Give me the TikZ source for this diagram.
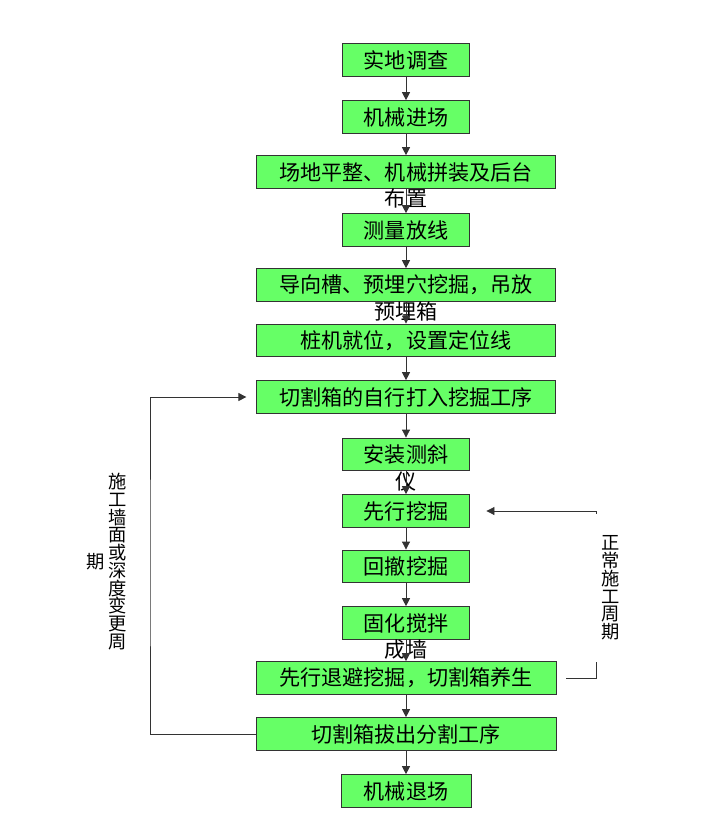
\documentclass[tikz,border=0pt]{standalone}
\usepackage{fontspec}
\newfontfamily\cjk{Noto Sans CJK SC}
\usetikzlibrary{arrows.meta,positioning}
\definecolor{boxgreen}{RGB}{102,255,102}

\begin{document}
\begin{tikzpicture}[%
  box/.style = {draw=black!80, line width=0.6pt, fill=boxgreen,
    minimum height=0.82cm, inner sep=0pt, font=\cjk\fontsize{15}{18}\selectfont},
  smallbox/.style = {box, minimum width=3.18cm},
  widebox/.style = {box, minimum width=7.48cm},
  tailtext/.style = {inner sep=0pt, font=\cjk\fontsize{15}{18}\selectfont},
  vtext/.style = {align=center, inner sep=0pt, font=\cjk\fontsize{13}{12.6}\selectfont},
  line/.style = {line width=0.6pt, black!80},
  >={Triangle[length=0.2cm,width=0.2cm]},
]

  \useasboundingbox (0,0) rectangle (18,-20.425);

  % main column
  \node[smallbox] (survey)  at (10.15,-1.50)  {实地调查};
  \node[smallbox] (enter)   at (10.15,-2.925) {机械进场};
  \node[widebox, label={[tailtext]below:布置}]   (level)   at (10.15,-4.30)  {场地平整、机械拼装及后台};
  \node[smallbox] (setout)  at (10.15,-5.75)  {测量放线};
  \node[widebox, label={[tailtext]below:预埋箱}] (trench)  at (10.15,-7.125) {导向槽、预埋穴挖掘，吊放};
  \node[widebox]  (place)   at (10.15,-8.51)  {桩机就位，设置定位线};
  \node[widebox]  (drive)   at (10.15,-9.925) {切割箱的自行打入挖掘工序};
  \node[smallbox, label={[tailtext]below:仪}]    (incline) at (10.15,-11.36) {安装测斜};
  \node[smallbox] (dig)     at (10.15,-12.775) {先行挖掘};
  \node[smallbox] (back)    at (10.15,-14.16) {回撤挖掘};
  \node[smallbox, label={[tailtext]below:成墙}]  (mix)     at (10.15,-15.575) {固化搅拌};
  \node[widebox, minimum width=7.5cm]  (retreat) at (10.15,-16.95) {先行退避挖掘，切割箱养生};
  \node[widebox, minimum width=7.5cm]  (pull)    at (10.15,-18.35) {切割箱拔出分割工序};
  \node[smallbox, minimum width=3.25cm] (leave) at (10.15,-19.775) {机械退场};

  \draw[line,->] (survey) -- (enter);
  \draw[line,->] (enter) -- (level);
  \draw[line,->] (level) -- (setout);
  \draw[line,->] (setout) -- (trench);
  \draw[line,->] (trench) -- (place);
  \draw[line,->] (place) -- (drive);
  \draw[line,->] (drive) -- (incline);
  \draw[line,->] (incline) -- (dig);
  \draw[line,->] (dig) -- (back);
  \draw[line,->] (back) -- (mix);
  \draw[line,->] (mix) -- (retreat);
  \draw[line,->] (retreat) -- (pull);
  \draw[line,->] (pull) -- (leave);

  % loop on the left
  \coordinate (loopL) at (3.75,-14.0);
  \draw[line,->,shorten >=0.24cm] (pull.west) -| (loopL) |- (drive.west);
  \node[vtext] (lnote) at (2.95,-14.04) {施\\工\\墙\\面\\或\\深\\度\\变\\更\\周};
  \node[vtext, left=0.1cm of lnote] (lnote2) {期};

  % loop on the right
  \coordinate (loopR) at (14.9,-14.7);
  \draw[line,->,shorten <=0.25cm,shorten >=0.41cm] (retreat.east) -| (loopR) |- (dig.east);
  \node[vtext, fill=white, minimum width=1.05cm, minimum height=3.68cm] (rnote) at (15.275,-14.7)
    {正\\常\\施\\工\\周\\期};

\end{tikzpicture}
\end{document}
